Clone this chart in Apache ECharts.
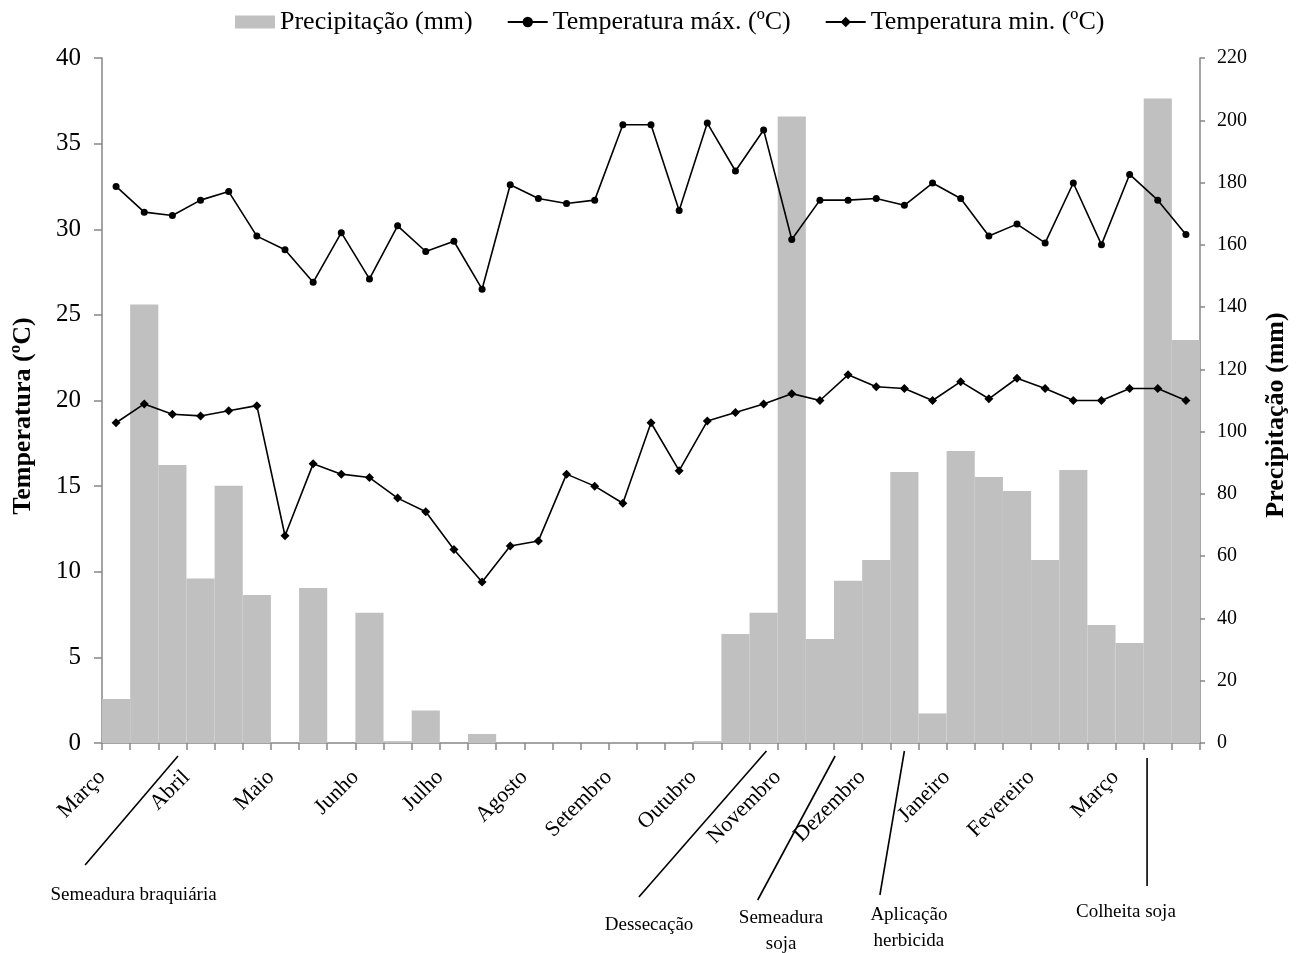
<!DOCTYPE html>
<html>
<head>
<meta charset="utf-8">
<script src="https://cdn.jsdelivr.net/npm/echarts@6/dist/echarts.min.js"></script>
<style>
html,body{margin:0;padding:0;background:#fff;}
#chart{width:1302px;height:953px;}
</style>
</head>
<body>
<div id="chart"></div>
<script>
// ---- data ----
const categories = [
  'Mar-1','Mar-2','Mar-3','Abr-1','Abr-2','Abr-3','Mai-1','Mai-2','Mai-3',
  'Jun-1','Jun-2','Jun-3','Jul-1','Jul-2','Jul-3','Ago-1','Ago-2','Ago-3',
  'Set-1','Set-2','Set-3','Out-1','Out-2','Out-3','Nov-1','Nov-2','Nov-3',
  'Dez-1','Dez-2','Dez-3','Jan-1','Jan-2','Jan-3','Fev-1','Fev-2','Fev-3',
  'Mar2-1','Mar2-2','Mar2-3'
];
const monthLabels = ['Março','Abril','Maio','Junho','Julho','Agosto','Setembro',
  'Outubro','Novembro','Dezembro','Janeiro','Fevereiro','Março'];
const precipitacao = [14.1,140.8,89.3,52.8,82.6,47.5,0,49.8,0,41.8,0.6,10.4,0,2.9,0,0,0,0,0,0,
  0,0.6,35.0,41.8,201.2,33.4,52.1,58.8,87.0,9.5,93.8,85.4,80.9,58.8,87.7,37.9,32.1,207.0,129.4];
const tempMax = [32.5,31.0,30.8,31.7,32.2,29.6,28.8,26.9,29.8,27.1,30.2,28.7,29.3,26.5,32.6,31.8,31.5,31.7,36.1,36.1,
  31.1,36.2,33.4,35.8,29.4,31.7,31.7,31.8,31.4,32.7,31.8,29.6,30.3,29.2,32.7,29.1,33.2,31.7,29.7];
const tempMin = [18.7,19.8,19.2,19.1,19.4,19.7,12.1,16.3,15.7,15.5,14.3,13.5,11.3,9.4,11.5,11.8,15.7,15.0,14.0,18.7,
  15.9,18.8,19.3,19.8,20.4,20.0,21.5,20.8,20.7,20.0,21.1,20.1,21.3,20.7,20.0,20.0,20.7,20.7,20.0];
const tempTicks = {min:0, max:40, interval:5};
const precTicks = {min:0, max:220, interval:20};

// ---- chart ----
const FONT = 'Liberation Serif';
const AXIS_COLOR = '#868686';
const chart = echarts.init(document.getElementById('chart'), null, {renderer:'canvas'});

const option = {
  animation:false,
  backgroundColor:'#fff',
  textStyle:{fontFamily:FONT, color:'#000'},
  legend:{
    top:4, left:230,
    itemWidth:40, itemHeight:13, itemGap:34,
    textStyle:{fontFamily:FONT, fontSize:26, color:'#000'},
    data:[
      {name:'Precipitação (mm)', icon:'rect'},
      {name:'Temperatura máx. (ºC)'},
      {name:'Temperatura min. (ºC)'}
    ]
  },
  grid:{left:102, right:102, top:58, bottom:210, containLabel:false},
  xAxis:[
    {
      type:'category', data:categories, boundaryGap:true, position:'bottom',
      axisLine:{show:true, lineStyle:{color:AXIS_COLOR, width:1.5}},
      axisTick:{show:true, interval:0, length:7, lineStyle:{color:AXIS_COLOR, width:1.5}},
      axisLabel:{show:false},
      splitLine:{show:false}
    },
    {
      type:'value', min:0, max:39, interval:3, position:'bottom',
      axisLine:{show:false}, axisTick:{show:false}, splitLine:{show:false},
      axisLabel:{
        show:true, rotate:45, margin:31, fontSize:22, fontFamily:FONT, color:'#000',
        showMinLabel:true, showMaxLabel:true,
        formatter:function(v){ const i = Math.round(v/3); return (v % 3 === 0 && monthLabels[i]) ? monthLabels[i] : ''; }
      }
    }
  ],
  yAxis:[
    {
      type:'value', position:'left', min:tempTicks.min, max:tempTicks.max, interval:tempTicks.interval,
      axisLine:{show:true, lineStyle:{color:AXIS_COLOR, width:1.5}},
      axisTick:{show:true, length:8, lineStyle:{color:AXIS_COLOR, width:1.5}},
      axisLabel:{fontSize:25, fontFamily:FONT, color:'#000', margin:21},
      splitLine:{show:false}
    },
    {
      type:'value', position:'right', min:precTicks.min, max:precTicks.max, interval:precTicks.interval,
      axisLine:{show:true, lineStyle:{color:AXIS_COLOR, width:1.5}},
      axisTick:{show:true, length:5, lineStyle:{color:AXIS_COLOR, width:1.5}},
      axisLabel:{fontSize:20, fontFamily:FONT, color:'#000', margin:17},
      splitLine:{show:false}
    }
  ],
  series:[
    {
      name:'Precipitação (mm)', type:'bar', xAxisIndex:0, yAxisIndex:1,
      data:precipitacao, barCategoryGap:'0%', barGap:'0%',
      itemStyle:{color:'#C0C0C0'}, z:1
    },
    {
      name:'Temperatura máx. (ºC)', type:'line', xAxisIndex:0, yAxisIndex:0,
      data:tempMax, symbol:'circle', symbolSize:7,
      lineStyle:{color:'#000', width:1.6}, itemStyle:{color:'#000'}, z:3
    },
    {
      name:'Temperatura min. (ºC)', type:'line', xAxisIndex:0, yAxisIndex:0,
      data:tempMin, symbol:'diamond', symbolSize:9,
      lineStyle:{color:'#000', width:1.6}, itemStyle:{color:'#000'}, z:3
    }
  ]
};
chart.setOption(option);

// ---- annotations (x in category units along the month axis, y in px) ----
const annotations = [
  {text:'Semeadura braquiária', from:[2.70,756], to:[-0.60,865], at:[1.12,895]},
  {text:'Dessecação', from:[23.6,751], to:[19.07,897], at:[19.43,925]},
  {text:'Semeadura\nsoja', from:[26.04,756], to:[23.29,900], at:[24.12,931]},
  {text:'Aplicação\nherbicida', from:[28.5,751], to:[27.63,895], at:[28.66,928]},
  {text:'Colheita soja', from:[37.12,758], to:[37.12,886], at:[36.37,912]}
];
function px(v){ return chart.convertToPixel({xAxisIndex:1}, v); }
const graphics = [];
annotations.forEach(function(a){
  graphics.push({
    type:'line', silent:true,
    shape:{x1:px(a.from[0]), y1:a.from[1], x2:px(a.to[0]), y2:a.to[1]},
    style:{stroke:'#000', lineWidth:1.6}
  });
  graphics.push({
    type:'text', silent:true, x:px(a.at[0]), y:a.at[1],
    style:{text:a.text, fontFamily:FONT, fontSize:19, fill:'#000',
      align:'center', verticalAlign:'middle', lineHeight:26}
  });
});
// axis titles
graphics.push({
  type:'text', silent:true, x:23, y:416, rotation:Math.PI/2,
  style:{text:'Temperatura (ºC)', fontFamily:FONT, fontSize:26, fontWeight:'bold', fill:'#000',
    align:'center', verticalAlign:'middle'}
});
graphics.push({
  type:'text', silent:true, x:1276, y:415, rotation:Math.PI/2,
  style:{text:'Precipitação (mm)', fontFamily:FONT, fontSize:26, fontWeight:'bold', fill:'#000',
    align:'center', verticalAlign:'middle'}
});
chart.setOption({graphic:graphics});
</script>
</body>
</html>
